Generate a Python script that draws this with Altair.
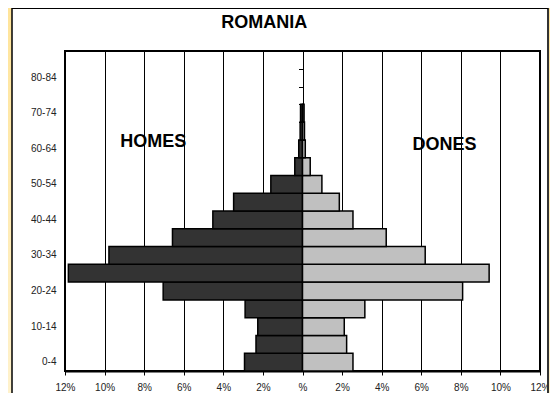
import altair as alt
import pandas as pd

ages = ["0-4", "5-9", "10-14", "15-19", "20-24", "25-29", "30-34", "35-39",
        "40-44", "45-49", "50-54", "55-59", "60-64", "65-69", "70-74",
        "75-79", "80-84", "85+"]
homes = [2.93, 2.35, 2.26, 2.90, 7.04, 11.83, 9.78, 6.57, 4.53, 3.48, 1.60,
         0.39, 0.19, 0.12, 0.10, 0.0, 0.0, 0.0]
dones = [2.55, 2.23, 2.11, 3.15, 8.09, 9.43, 6.20, 4.23, 2.55, 1.86, 0.98,
         0.39, 0.14, 0.10, 0.08, 0.0, 0.0, 0.0]
shown_ages = ["0-4", "10-14", "20-24", "30-34", "40-44", "50-54", "60-64",
              "70-74", "80-84"]
x_ticks = [-12, -10, -8, -6, -4, -2, 0, 2, 4, 6, 8, 10, 12]

rows = []
for a, m, f in zip(ages, homes, dones):
    if m > 0:
        rows.append({"age": a, "sex": "HOMES", "value": -m})
    if f > 0:
        rows.append({"age": a, "sex": "DONES", "value": f})
df = pd.DataFrame(rows)
age_df = pd.DataFrame({"age": ages})

W, H = 475, 320
PL, PT, PR, PB = 57, 43, 10, 22
TOTW, TOTH = W + PL + PR, H + PT + PB

order = list(reversed(ages))
yscale = alt.Scale(domain=order, paddingInner=0, paddingOuter=0)
xscale = alt.Scale(domain=[-12, 12], nice=False, zero=False)

FONT = "Liberation Sans"

bars = alt.Chart(df).mark_bar(stroke="black", strokeWidth=1.5).encode(
    x=alt.X("value:Q", scale=xscale,
            axis=alt.Axis(values=x_ticks, title=None, grid=True,
                          gridColor="black", gridWidth=1, gridOpacity=1,
                          domainColor="black", domainWidth=2,
                          tickColor="black", tickSize=4, labelPadding=7,
                          labelFlush=False, labelOverlap=False,
                          labelFontSize=10, labelColor="#222", labelFont=FONT,
                          labelExpr="datum.value == 0 ? '%' : abs(datum.value) + '%'")),
    y=alt.Y("age:N", scale=yscale, sort=order,
            axis=alt.Axis(values=shown_ages, title=None, domain=False,
                          ticks=False, grid=False, labelPadding=9,
                          labelOverlap=False,
                          labelFontSize=10, labelColor="#222", labelFont=FONT)),
    color=alt.Color("sex:N", scale=alt.Scale(domain=["HOMES", "DONES"],
                                             range=["#333333", "#C0C0C0"]),
                    legend=None),
)

center_ticks = alt.Chart(age_df).mark_point(opacity=0, size=1).encode(
    y=alt.Y("age:N", scale=yscale, sort=order,
            axis=alt.Axis(orient="left", offset=-W / 2, labels=False,
                          domain=False, grid=False, ticks=True, tickSize=4,
                          tickBand="extent", tickColor="black", tickWidth=1,
                          title=None)),
    x=alt.value(W / 2),
)

one = pd.DataFrame({"k": [0]})
grad = alt.LinearGradient(gradient="linear",
                          stops=[alt.GradientStop(color="#FFE49A", offset=0),
                                 alt.GradientStop(color="#FFF2CC", offset=1)],
                          x1=0, x2=0, y1=0, y2=1)
top_y, bot_y = -PT, TOTH - PT
left_strip = alt.Chart(one).mark_rect(color=grad).encode(
    x=alt.value(-PL), x2=alt.value(-PL + 4), y=alt.value(top_y), y2=alt.value(bot_y))
right_strip = alt.Chart(one).mark_rect(color=grad).encode(
    x=alt.value(W + 9), x2=alt.value(W + PR), y=alt.value(top_y), y2=alt.value(bot_y))
left_border = alt.Chart(one).mark_rule(color="black", strokeWidth=1.5).encode(
    x=alt.value(-PL + 4), y=alt.value(top_y), y2=alt.value(bot_y))
right_border = alt.Chart(one).mark_rule(color="#333", strokeWidth=2).encode(
    x=alt.value(W + 8), y=alt.value(top_y), y2=alt.value(bot_y))
top_border = alt.Chart(one).mark_rule(color="black", strokeWidth=1).encode(
    x=alt.value(-PL + 4), x2=alt.value(W + 8), y=alt.value(top_y + 0.5))

def label(txt, x, y, size=18):
    return alt.Chart(pd.DataFrame({"t": [txt]})).mark_text(
        font=FONT, fontSize=size, fontWeight="bold", color="black",
        baseline="middle", align="center").encode(
        text="t:N", x=alt.value(x), y=alt.value(y))

title = label("ROMANIA", 199.3, -28)
homes_lbl = label("HOMES", 88.3, 90.7)
dones_lbl = label("DONES", 379.4, 94.1)

chart = alt.layer(
    left_strip, right_strip, left_border, right_border, top_border,
    bars, center_ticks, title, homes_lbl, dones_lbl
).resolve_axis(y="independent").properties(
    width=W, height=H,
    padding={"left": PL, "top": PT, "right": PR, "bottom": PB},
    autosize=alt.AutoSizeParams(type="none"),
).configure(background="white").configure_view(
    stroke="black", strokeWidth=2, fill="white")

chart.save("out.html", embed_options={"renderer": "svg", "actions": False})
